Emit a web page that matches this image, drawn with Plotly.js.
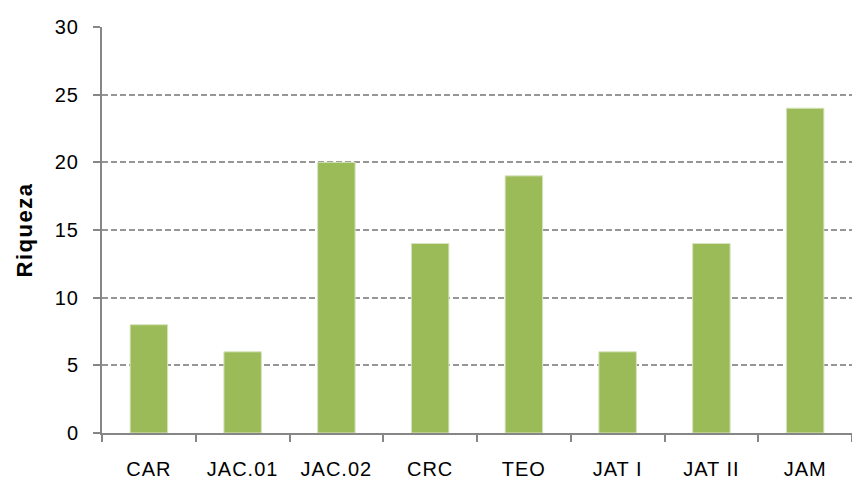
<!DOCTYPE html>
<html>
<head>
<meta charset="utf-8">
<script src="https://cdn.plot.ly/plotly-3.0.1.min.js"></script>
<style>
html,body{margin:0;padding:0;background:#fff;}
#chart{width:852px;height:479px;}
#chart .xtick text, #chart .ytick text{letter-spacing:1px;}
#chart .ytitle{letter-spacing:1.5px;}
</style>
</head>
<body>
<div id="chart"></div>
<script>
const categories = ["CAR", "JAC.01", "JAC.02", "CRC", "TEO", "JAT I", "JAT II", "JAM"];
const riqueza = [8, 6, 20, 14, 19, 6, 14, 24];
const yTicks = [0, 5, 10, 15, 20, 25, 30];

const trace = {
  type: "bar",
  x: categories,
  y: riqueza,
  marker: {color: "#9BBB59", line: {color: "#D7E4BD", width: 1}},
  hoverinfo: "x+y"
};

const layout = {
  width: 852,
  height: 479,
  margin: {l: 102, r: 0, t: 27, b: 46},
  paper_bgcolor: "#ffffff",
  plot_bgcolor: "#ffffff",
  showlegend: false,
  bargap: 0.6,
  font: {family: "Liberation Sans, Arial, sans-serif", size: 20, color: "#000"},
  xaxis: {
    type: "category",
    range: [-0.5, 7.5],
    showline: true,
    linecolor: "#868686",
    linewidth: 2,
    ticks: "outside",
    tickson: "boundaries",
    ticklen: 7,
    tickwidth: 2,
    tickcolor: "#868686",
    ticklabelstandoff: 17,
    showgrid: false,
    zeroline: false,
    tickfont: {size: 20}
  },
  yaxis: {
    range: [0, 30],
    tickvals: yTicks,
    ticktext: yTicks.map(String),
    showline: true,
    linecolor: "#868686",
    linewidth: 2,
    ticks: "outside",
    ticklen: 7,
    tickwidth: 2,
    tickcolor: "#868686",
    ticklabelstandoff: 10,
    showgrid: true,
    gridcolor: "#969696",
    gridwidth: 2,
    griddash: "6px,3px",
    zeroline: false,
    tickfont: {size: 20},
    title: {text: "Riqueza", font: {size: 22, family: "Liberation Sans, Arial, sans-serif", weight: "bold"}, standoff: 18}
  }
};

Plotly.newPlot("chart", [trace], layout, {displayModeBar: false, staticPlot: true});
</script>
</body>
</html>
